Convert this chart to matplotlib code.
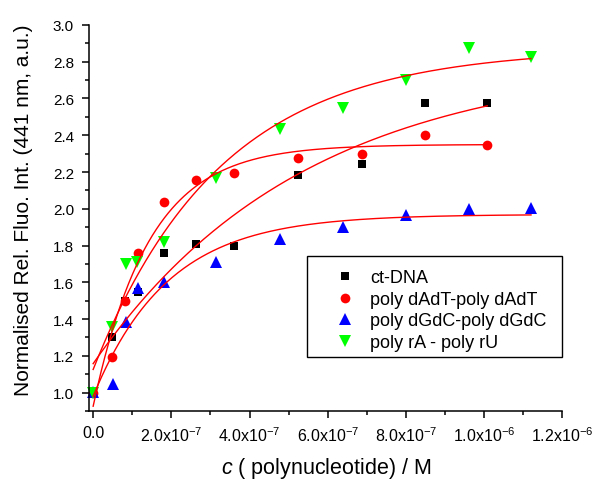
import matplotlib
matplotlib.use('Agg')
import matplotlib.pyplot as plt
import numpy as np
from matplotlib.ticker import MultipleLocator, FuncFormatter
from matplotlib.patches import Rectangle

plt.rcParams['font.family'] = ['Liberation Sans', 'DejaVu Sans']
plt.rcParams['mathtext.fontset'] = 'custom'
plt.rcParams['mathtext.rm'] = 'Liberation Sans'
plt.rcParams['mathtext.it'] = 'Liberation Sans:italic'

# --- data ---
x_ct = [0, 4.85e-8, 8.2e-8, 1.14e-7, 1.81e-7, 2.62e-7, 3.61e-7, 5.25e-7, 6.87e-7, 8.49e-7, 1.008e-6]
y_ct = [1.00, 1.30, 1.50, 1.547, 1.761, 1.811, 1.797, 2.183, 2.241, 2.576, 2.576]

x_at = [0, 4.85e-8, 8.2e-8, 1.14e-7, 1.81e-7, 2.62e-7, 3.61e-7, 5.25e-7, 6.87e-7, 8.49e-7, 1.008e-6]
y_at = [1.00, 1.196, 1.50, 1.761, 2.038, 2.154, 2.192, 2.275, 2.297, 2.404, 2.346]

x_gc = [0, 5.0e-8, 8.3e-8, 1.14e-7, 1.81e-7, 3.13e-7, 4.77e-7, 6.40e-7, 7.99e-7, 9.62e-7, 1.12e-6]
y_gc = [1.005, 1.045, 1.384, 1.567, 1.601, 1.71, 1.833, 1.90, 1.964, 2.00, 2.005]

x_au = [0, 4.85e-8, 8.3e-8, 1.12e-7, 1.81e-7, 3.13e-7, 4.77e-7, 6.40e-7, 7.99e-7, 9.62e-7, 1.12e-6]
y_au = [1.00, 1.359, 1.697, 1.712, 1.819, 2.165, 2.436, 2.549, 2.703, 2.875, 2.826]

labels = ['ct-DNA', 'poly dAdT-poly dAdT', 'poly dGdC-poly dGdC', 'poly rA - poly rU']


# --- saturation fit: y = y0 + A*(1 - exp(-x/t)) ---
def fit_sat(x, y):
    x = np.asarray(x)
    y = np.asarray(y)
    best = None
    for t in np.logspace(-8, -5, 800):
        X = np.column_stack([np.ones_like(x), 1 - np.exp(-x / t)])
        coef = np.linalg.lstsq(X, y, rcond=None)[0]
        r = np.sum((X @ coef - y) ** 2)
        if best is None or r < best[0]:
            best = (r, t, coef)
    _, t, (y0, a) = best
    xs = np.linspace(0, x.max(), 300)
    return xs, y0 + a * (1 - np.exp(-xs / t))


fig = plt.figure(figsize=(5.95, 4.81), dpi=100)
ax = fig.add_axes([0.150, 0.1435, 0.795, 0.8025])

series = [
    (x_ct, y_ct, 's', 'black', 6),
    (x_at, y_at, 'o', 'red', 7),
    (x_gc, y_gc, '^', 'blue', 8.5),
    (x_au, y_au, 'v', '#00ff00', 8.5),
]
for (xv, yv, mk, col, ms), lab in zip(series, labels):
    ax.plot(xv, yv, linestyle='none', marker=mk, color=col, ms=ms,
            markeredgewidth=0, label=lab, zorder=2, clip_on=False)
for xv, yv, mk, col, ms in series:
    xs, ys = fit_sat(xv, yv)
    ax.plot(xs, ys, color='red', lw=1.0, zorder=3)

ax.set_xlim(-1e-8, 1.2e-6)
ax.set_ylim(0.9, 3.0)

ax.xaxis.set_major_locator(MultipleLocator(2e-7))
ax.xaxis.set_minor_locator(MultipleLocator(1e-7))
ax.yaxis.set_major_locator(MultipleLocator(0.2))
ax.yaxis.set_minor_locator(MultipleLocator(0.1))


def xfmt(v, pos):
    if abs(v) < 1e-12:
        return '0.0'
    e = int(np.floor(np.log10(abs(v)) + 1e-9))
    m = v / 10 ** e
    return '%.1fx10$^{%d}$' % (m, e)


ax.xaxis.set_major_formatter(FuncFormatter(xfmt))
ax.yaxis.set_major_formatter(FuncFormatter(lambda v, p: '%.1f' % v))

for s in ['top', 'right']:
    ax.spines[s].set_visible(False)
for s in ['left', 'bottom']:
    ax.spines[s].set_linewidth(1.1)

ax.tick_params(which='major', direction='out', length=5, width=1.1, pad=6)
ax.tick_params(which='minor', direction='out', length=3, width=1.1)
ax.tick_params(axis='x', labelsize=11.5, pad=5)
ax.tick_params(axis='y', labelsize=11)

ax.set_xlabel('$c$ ( polynucleotide) / M', fontsize=15.5)
ax.set_ylabel('Normalised Rel. Fluo. Int. (441 nm, a.u.)', fontsize=15)
ax.xaxis.set_label_coords(0.5, -0.113)
ax.yaxis.set_label_coords(-0.119, 0.523)

# legend box drawn by hand, entries placed inside it
ax.add_patch(Rectangle((0.460, 0.140), 0.539, 0.262, transform=ax.transAxes,
                       facecolor='white', edgecolor='black', lw=1.0,
                       zorder=4, clip_on=False))
leg = ax.legend(loc='upper left', bbox_to_anchor=(0.514, 0.367), fontsize=13,
                frameon=False, handlelength=1.4, handletextpad=0.68,
                borderpad=0, borderaxespad=0, labelspacing=0.25, numpoints=1)
leg.set_zorder(5)

fig.savefig('out.png', dpi=100)
